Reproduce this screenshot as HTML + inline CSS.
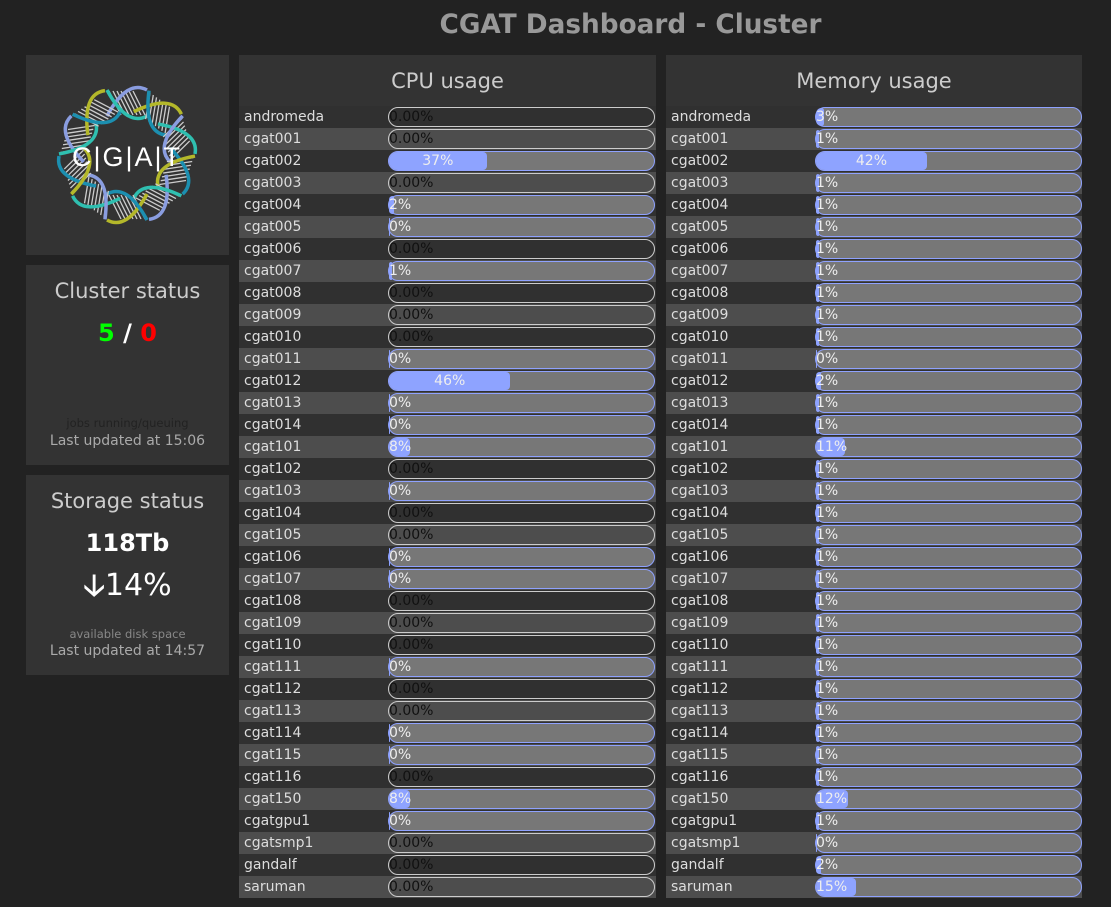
<!DOCTYPE html>
<html><head><meta charset="utf-8">
<style>
*{margin:0;padding:0;box-sizing:border-box}
body{width:1111px;height:907px;background:#222;font-family:"DejaVu Sans","Liberation Sans",sans-serif;position:relative;overflow:hidden;color:#ddd}
.panel{position:absolute;background:#333}
.ctr{position:absolute;left:0;right:0;text-align:center;white-space:nowrap}
.row{position:absolute;height:22px;font-size:14px;line-height:22px}
.row .lbl{position:absolute;left:5px;top:0;color:#ddd}
.track{position:absolute;top:1px;height:20px;border-radius:10px;border:1.5px solid #8fa2ff;background:#777;overflow:visible}
.track.off{border-color:#ccc;background:transparent}
.fill{position:absolute;left:0;top:0;bottom:0;background:#8ea3ff;border-radius:9px 4px 4px 9px}
.txt{position:absolute;top:1px;font-size:14px;line-height:17px;color:#eee;white-space:nowrap}
.off .txt{color:#111}
</style></head><body>
<div class="ctr" style="top:6px;left:150px;font-size:26.3px;font-weight:bold;color:#999;line-height:38px">CGAT Dashboard - Cluster</div>

<div class="panel" style="left:26px;top:55px;width:203px;height:200px">
<svg width="203" height="200">
 <g transform="translate(101,100)" id="lg"></g>
 <text x="101" y="111" text-anchor="middle" fill="#fff" font-family="Liberation Sans, sans-serif" font-size="27" letter-spacing="2">C|G|A|T</text>
</svg>
</div>

<div class="panel" style="left:26px;top:265px;width:203px;height:200px">
 <div class="ctr" style="top:14px;font-size:21px;color:#ccc">Cluster status</div>
 <div class="ctr" style="top:54px;font-size:24px;font-weight:bold"><span style="color:#0f0">5</span> <span style="color:#fff">/</span> <span style="color:#f00">0</span></div>
 <div class="ctr" style="top:151px;font-size:11.5px;color:#222">jobs running/queuing</div>
 <div class="ctr" style="top:168px;font-size:14px;color:#aaa">Last updated at 15:06</div>
</div>

<div class="panel" style="left:26px;top:475px;width:203px;height:200px">
 <div class="ctr" style="top:14px;font-size:21px;color:#ccc">Storage status</div>
 <div class="ctr" style="top:54px;font-size:24px;font-weight:bold;color:#fff">118Tb</div>
 <div class="ctr" style="top:88px;font-size:30px;color:#fff"><span style="font-weight:bold">&#129123;</span>14%</div>
 <div class="ctr" style="top:152px;font-size:11.5px;color:#888">available disk space</div>
 <div class="ctr" style="top:168px;font-size:14px;color:#aaa">Last updated at 14:57</div>
</div>

<div class="panel" id="cpu" style="left:239px;top:55px;width:417px;height:843px">
 <div class="ctr" style="top:14px;font-size:21px;color:#ccc">CPU usage</div>
</div>
<div class="panel" id="mem" style="left:666px;top:55px;width:416px;height:843px">
 <div class="ctr" style="top:14px;font-size:21px;color:#ccc">Memory usage</div>
</div>

<script>
const hosts=["andromeda","cgat001","cgat002","cgat003","cgat004","cgat005","cgat006","cgat007","cgat008","cgat009","cgat010","cgat011","cgat012","cgat013","cgat014","cgat101","cgat102","cgat103","cgat104","cgat105","cgat106","cgat107","cgat108","cgat109","cgat110","cgat111","cgat112","cgat113","cgat114","cgat115","cgat116","cgat150","cgatgpu1","cgatsmp1","gandalf","saruman"];
// null = offline (shown as 0.00%)
const cpuValues=[null,null,37,null,2,0,null,1,null,null,null,0,46,0,0,8,null,0,null,null,0,0,null,null,null,0,null,null,0,0,null,8,0,null,null,null];
const memValues=[3,1,42,1,1,1,1,1,1,1,1,0,2,1,1,11,1,1,1,1,1,1,1,1,1,1,1,1,1,1,1,12,1,0,2,15];

function build(panelId,values,barLeft,barW,prefix){
  const p=document.getElementById(panelId);
  const pw=p.offsetWidth;
  hosts.forEach((h,i)=>{
    const r=document.createElement('div');
    r.className='row';
    
    
    r.style.top=(51+i*22)+'px';r.style.left='0';r.style.width=pw+'px';
    r.style.background=i%2?'#4d4d4d':'#303030';
    const l=document.createElement('div');l.className='lbl';l.textContent=h;
    
    
    r.appendChild(l);
    const t=document.createElement('div');
    const v=values[i];
    t.className='track'+(v===null?' off':'');
    
    
    t.style.left=barLeft+'px';t.style.width=barW+'px';
    const txt=document.createElement('div');txt.className='txt';
    
    
    if(v===null){txt.textContent='0.00%';txt.style.left='0px';}
    else{
      const fw=Math.max(v>0?3:1,v/100*(barW-3));
      const f=document.createElement('div');f.className='fill';f.style.width=fw+'px';
      
      
      t.appendChild(f);
      txt.textContent=v+'%';
      if(fw>50){txt.style.left='0';txt.style.width=fw+'px';txt.style.textAlign='center';}
      else txt.style.left='0px';
    }
    t.appendChild(txt);
    r.appendChild(t);
    p.appendChild(r);
  });
}
build('cpu',cpuValues,149,267,'cpu');
build('mem',memValues,149,267,'mem');

// logo ring
const g=document.getElementById('lg');const ns='http://www.w3.org/2000/svg';
const cols=['#8a9de0','#b4b82a','#2fbfb0','#1c8fb0'];
for(let k=0;k<10;k++){
  const a=k*36;
  const e=document.createElementNS(ns,'g');e.setAttribute('transform','rotate('+a+') translate(0,-52)');
  for(let s=-3;s<=3;s++){const ln=document.createElementNS(ns,'line');
    ln.setAttribute('x1',s*4-6);ln.setAttribute('y1',-12);ln.setAttribute('x2',s*4+6);ln.setAttribute('y2',12);
    ln.setAttribute('stroke','#ccc');ln.setAttribute('stroke-width','1.3');e.appendChild(ln);}
  const p1=document.createElementNS(ns,'path');p1.setAttribute('d','M-20,13 Q0,-24 20,-13');p1.setAttribute('fill','none');p1.setAttribute('stroke',cols[k%4]);p1.setAttribute('stroke-width','3.5');e.appendChild(p1);
  const p2=document.createElementNS(ns,'path');p2.setAttribute('d','M-20,-13 Q0,24 20,13');p2.setAttribute('fill','none');p2.setAttribute('stroke',cols[(k+2)%4]);p2.setAttribute('stroke-width','3.5');e.appendChild(p2);
  g.appendChild(e);
}
</script>
</body></html>
